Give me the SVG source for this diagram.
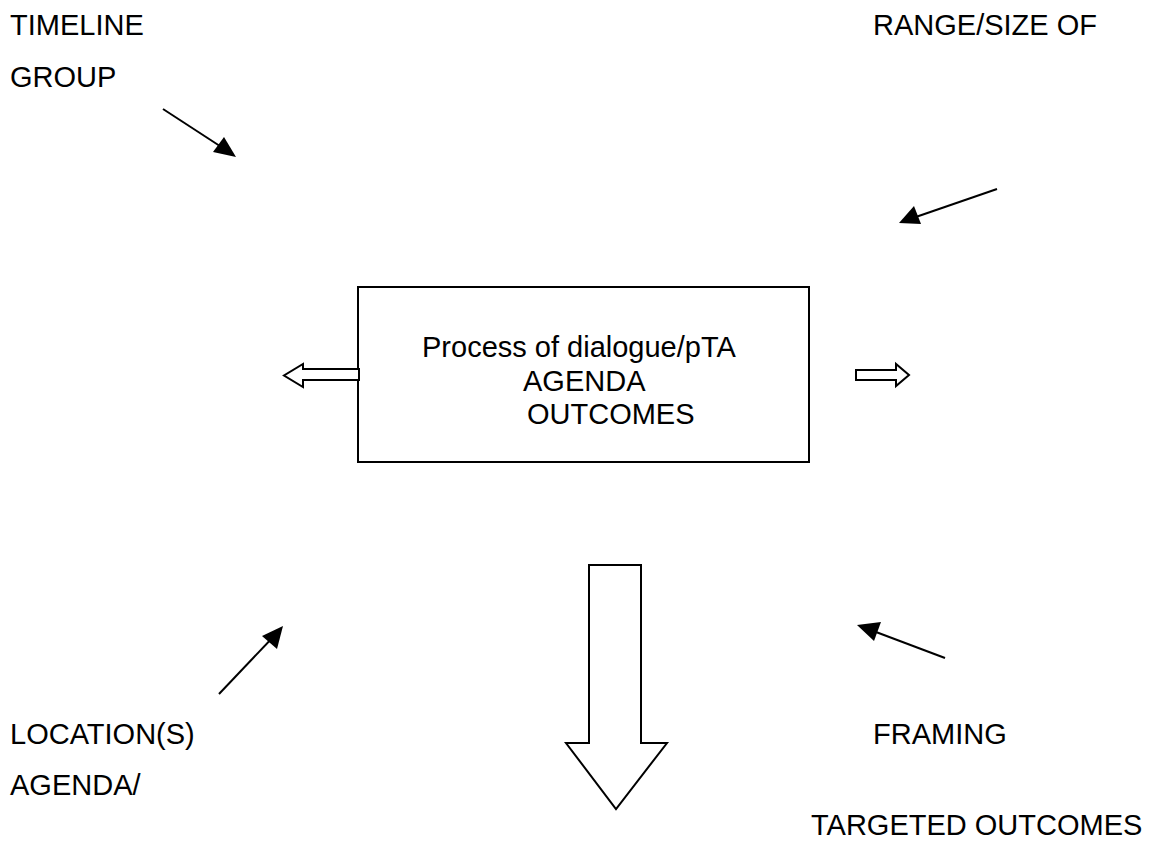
<svg xmlns="http://www.w3.org/2000/svg" width="1153" height="848" viewBox="0 0 1153 848">
<style>
text{font-family:"Liberation Sans",Arial,sans-serif;font-size:29px;fill:#000}
.ln{stroke:#000;stroke-width:2;fill:none}
.hd{fill:#000}
.blk{fill:#fff;stroke:#000;stroke-width:2;stroke-linejoin:miter}
</style>
<rect width="1153" height="848" fill="#fff"/>
<g id="labels">
<text x="10" y="35">TIMELINE</text>
<text x="10" y="87">GROUP</text>
<text x="873" y="35">RANGE/SIZE OF</text>
<text x="10" y="744">LOCATION(S)</text>
<text x="10" y="795">AGENDA/</text>
<text x="873" y="744">FRAMING</text>
<text x="811" y="835">TARGETED OUTCOMES</text>
</g>
<g id="process">
<rect class="blk" x="358" y="287" width="451" height="175"/>
<text x="422" y="357">Process of dialogue/pTA</text>
<text x="523" y="391">AGENDA</text>
<text x="527" y="424">OUTCOMES</text>
</g>
<g id="connectors">
<path d="M163,109 L226,150" class="ln"/>
<polygon class="hd" points="236,157 213,152 224,137"/>
<path d="M997,189 L910,219" class="ln"/>
<polygon class="hd" points="899,223 914,206 921,224"/>
<path d="M219,694 L276,634" class="ln"/>
<polygon class="hd" points="283,626 277,649 262,636"/>
<path d="M945,658 L868,629" class="ln"/>
<polygon class="hd" points="857,625 881,622 874,641"/>
<polygon class="blk" points="359,369 303,369 303,364 284,375.5 303,387 303,380 359,380"/>
<polygon class="blk" points="856,370 896,370 896,364 909,375 896,386 896,380 856,380"/>
<polygon class="blk" points="589,565 641,565 641,743 667,743 616,809 566,743 589,743"/>
</g>
</svg>
